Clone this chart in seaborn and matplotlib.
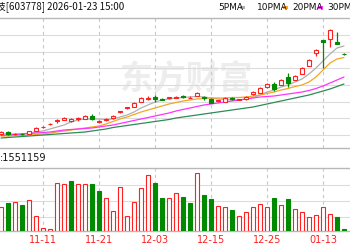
import numpy as np
import pandas as pd
import matplotlib
matplotlib.use("Agg")
import matplotlib.pyplot as plt
import seaborn as sns
from matplotlib.patches import Rectangle

# ---------------- data ----------------
opens  = [6.60, 6.80, 6.55, 6.62, 6.60, 6.90, 7.25, 7.55, 7.90, 8.00,
          7.90, 8.05, 8.10, 8.40, 7.80, 8.00, 8.15, 8.75, 9.15, 9.30,
          9.80, 10.10, 10.25, 10.10, 10.15, 10.20, 10.35, 10.20, 10.40, 10.25,
          10.10, 9.85, 9.80, 10.15, 9.98, 10.05, 10.60, 10.70, 11.25, 11.60,
          11.50, 12.30, 12.00, 12.60, 13.40, 14.65, 15.95, 16.10, 15.75, 14.63]
highs  = [6.90, 6.90, 6.70, 6.70, 6.90, 7.30, 7.35, 7.65, 8.05, 8.30,
          8.20, 8.30, 8.50, 8.55, 8.00, 8.20, 8.50, 8.90, 9.30, 9.80,
          10.30, 10.40, 10.50, 10.20, 10.30, 10.40, 10.50, 10.40, 10.80, 10.40,
          10.15, 10.00, 10.25, 10.30, 10.10, 10.35, 10.90, 11.25, 11.65, 11.80,
          12.05, 12.70, 12.45, 13.25, 14.05, 15.05, 16.00, 17.05, 16.80, 14.70]
lows   = [6.50, 6.50, 6.50, 6.50, 6.55, 6.85, 7.20, 7.50, 7.70, 7.95,
          7.80, 7.90, 8.05, 8.00, 7.70, 7.90, 8.10, 8.70, 9.10, 9.25,
          9.75, 9.95, 9.80, 9.95, 10.05, 10.15, 10.15, 10.15, 10.35, 10.00,
          9.65, 9.80, 9.75, 9.95, 9.95, 10.00, 10.45, 10.65, 11.20, 10.90,
          11.45, 11.30, 11.95, 12.55, 13.35, 14.40, 13.20, 15.30, 15.55, 14.50]
closes = [6.80, 6.60, 6.60, 6.56, 6.85, 7.20, 7.30, 7.60, 8.00, 8.20,
          8.10, 8.15, 8.40, 8.10, 7.90, 8.10, 8.40, 8.85, 9.25, 9.70,
          10.20, 10.20, 10.10, 10.00, 10.25, 10.30, 10.25, 10.24, 10.70, 10.15,
          9.70, 9.95, 10.20, 10.05, 10.06, 10.30, 10.75, 11.20, 11.60, 11.10,
          12.00, 11.70, 12.40, 13.20, 14.00, 15.00, 15.75, 17.00, 15.60, 14.57]

ma5  = [6.6, 6.6, 6.6, 6.6, 6.7, 6.8, 6.9, 7.1, 7.3, 7.5,
        7.8, 8.0, 8.1, 8.1, 8.1, 8.05, 8.1, 8.3, 8.5, 8.8,
        9.2, 9.5, 9.8, 10.0, 10.1, 10.2, 10.25, 10.3, 10.35, 10.3,
        10.2, 10.1, 10.05, 10.0, 10.0, 10.1, 10.25, 10.5, 10.8, 11.0,
        11.3, 11.5, 11.8, 12.1, 12.6, 13.2, 13.9, 14.6, 15.2, 15.4]
ma10 = [6.4, 6.4, 6.45, 6.45, 6.5, 6.55, 6.6, 6.7, 6.8, 6.9,
        7.0, 7.1, 7.2, 7.3, 7.4, 7.6, 7.85, 8.1, 8.3, 8.55,
        8.8, 9.0, 9.2, 9.4, 9.6, 9.75, 9.9, 10.0, 10.1, 10.15,
        10.2, 10.2, 10.2, 10.25, 10.25, 10.3, 10.4, 10.5, 10.65, 10.8,
        11.0, 11.15, 11.35, 11.5, 11.8, 12.3, 13.0, 13.7, 14.1, 14.25]
ma20 = [6.45, 6.5, 6.55, 6.6, 6.65, 6.7, 6.75, 6.8, 6.9, 7.0,
        7.05, 7.1, 7.15, 7.2, 7.3, 7.4, 7.5, 7.65, 7.8, 7.95,
        8.1, 8.25, 8.4, 8.55, 8.7, 8.9, 9.05, 9.2, 9.35, 9.5,
        9.6, 9.7, 9.8, 9.9, 10.0, 10.1, 10.2, 10.3, 10.35, 10.4,
        10.5, 10.6, 10.7, 10.8, 10.95, 11.15, 11.4, 11.7, 12.0, 12.3]
ma30 = [6.2, 6.25, 6.3, 6.35, 6.4, 6.45, 6.5, 6.55, 6.6, 6.65,
        6.7, 6.75, 6.8, 6.9, 7.0, 7.1, 7.25, 7.35, 7.45, 7.55,
        7.65, 7.75, 7.85, 7.95, 8.05, 8.2, 8.3, 8.4, 8.5, 8.6,
        8.7, 8.8, 8.9, 9.0, 9.1, 9.2, 9.3, 9.45, 9.6, 9.75,
        9.9, 10.05, 10.2, 10.35, 10.5, 10.7, 10.9, 11.1, 11.35, 11.6]

# volume (10k lots)
volume = [72, 84, 87, 78, 93, 45, 9, 6, 144, 141,
          150, 141, 141, 141, 120, 99, 60, 132, 45, 87,
          129, 168, 144, 99, 99, 114, 102, 84, 174, 108,
          96, 75, 72, 63, 45, 57, 72, 81, 72, 99,
          78, 96, 66, 57, 42, 48, 72, 51, 42, 6]

tick_labels = ["11-11", "11-21", "12-03", "12-15", "12-25", "01-13"]
tick_index = [6, 14, 22, 30, 38, 46]

title_text = "技[603778] 2026-01-23 15:00"
vol_text = ":1551159"
ma_names = ["5PMA", "10PMA", "20PMA", "30PMA"]
watermark = "东方财富"

# ---------------- style ----------------
sns.set_style("white")
plt.rcParams['font.family'] = ['Noto Sans CJK SC', 'DejaVu Sans']

RED = "#ff2020"
GREEN = "#008a00"
MA_COLORS = ["#b0b0b0", "#f5a623", "#ff33ff", "#2e8b57"]
GRID = "#dcdcdc"
SPINE = "#b8b8b8"

W, H = 350, 250
def fy(y):
    return 1 - y / H

fig = plt.figure(figsize=(3.5, 2.5), dpi=100)
fig.patch.set_facecolor("white")

n = len(closes)
idx = np.arange(n)
xlim = (-1 / 7, 349 / 7)

ax = fig.add_axes([0, fy(148), 1, (148 - 18) / H])
axv = fig.add_axes([0, fy(231), 1, (231 - 168) / H])

# ---------------- price panel ----------------
ax.set_xlim(*xlim)
ax.set_ylim(20 - 148 / 10, 20 - 18 / 10)
ax.set_yticks(np.linspace(6.5, 16.5, 7))
ax.set_xticks([])
ax.set_yticklabels([])
ax.tick_params(length=0)
ax.grid(axis='y', color=GRID, lw=0.8)
for t in tick_index:
    ax.axvline(t, color="#c8c8c8", lw=0.8, ls=(0, (3, 3)), zorder=0.6)
for s in ["left", "right"]:
    ax.spines[s].set_visible(False)
for s in ["top", "bottom"]:
    ax.spines[s].set_color(SPINE)
    ax.spines[s].set_linewidth(1.0)

ax.text(186 / W, fy(80), watermark, transform=fig.transFigure, ha='center', va='center',
        fontsize=24, color="#ededed", fontweight='bold', zorder=0.5)

df_ma = pd.DataFrame({"i": idx, "MA5": ma5, "MA10": ma10, "MA20": ma20, "MA30": ma30})
for col, c in zip(["MA5", "MA10", "MA20", "MA30"], MA_COLORS):
    sns.lineplot(data=df_ma, x="i", y=col, ax=ax, color=c, lw=0.9, zorder=2)
ax.set_xlabel("")
ax.set_ylabel("")

bw = 0.62
for i in range(n):
    o, h, l, c = opens[i], highs[i], lows[i], closes[i]
    up = c >= o
    col = RED if up else GREEN
    lo_b, hi_b = min(o, c), max(o, c)
    ax.vlines(i, l, lo_b, color=col, lw=0.9, zorder=3)
    ax.vlines(i, hi_b, h, color=col, lw=0.9, zorder=3)
    if abs(c - o) < 0.02:
        ax.hlines(o, i - bw / 2, i + bw / 2, color=col, lw=1.0, zorder=3)
    elif up:
        ax.add_patch(Rectangle((i - bw / 2, lo_b), bw, hi_b - lo_b, facecolor="white",
                               edgecolor=col, lw=0.8, zorder=3))
    else:
        ax.add_patch(Rectangle((i - bw / 2, lo_b), bw, hi_b - lo_b, facecolor=col,
                               edgecolor=col, lw=0.8, zorder=3))

# ---------------- volume panel ----------------
axv.set_xlim(*xlim)
axv.set_ylim(0, 189)
axv.set_yticks([43.5, 90, 138])
axv.set_yticklabels([])
axv.grid(axis='y', color=GRID, lw=0.8)
axv.tick_params(length=0)
for t in tick_index:
    axv.axvline(t, color="#c8c8c8", lw=0.8, ls=(0, (3, 3)), zorder=0.6)
for s in ["left", "right"]:
    axv.spines[s].set_visible(False)
for s in ["top", "bottom"]:
    axv.spines[s].set_color(SPINE)
    axv.spines[s].set_linewidth(1.0)

vw = 0.66
for i in range(n):
    prev = closes[i - 1] if i > 0 else opens[i]
    up = closes[i] >= prev
    if up:
        axv.add_patch(Rectangle((i - vw / 2, 0), vw, volume[i], facecolor="white",
                                edgecolor=RED, lw=0.8, zorder=3))
    else:
        axv.add_patch(Rectangle((i - vw / 2, 0), vw, volume[i], facecolor=GREEN,
                                edgecolor=GREEN, lw=0.8, zorder=3))

axv.set_xticks(tick_index)
axv.set_xticklabels(tick_labels, color=RED, fontsize=7, family=['DejaVu Sans'])
axv.tick_params(axis='x', pad=3)

# ---------------- header / texts ----------------
fig.text(-4 / W, fy(7), title_text, ha='left', va='center', fontsize=7, color="#111111")
fig.text(0, fy(158), vol_text, ha='left', va='center', fontsize=7, color="#111111",
         family=['DejaVu Sans'])

leg_x = [218, 257, 292, 327]
for name, c, x0 in zip(ma_names, MA_COLORS, leg_x):
    fig.text(x0 / W, fy(7), name, ha='left', va='center', fontsize=6.5, color="#111111",
             family=['DejaVu Sans'])
    w_px = {4: 20, 5: 24}[len(name)]
    fig.add_artist(Rectangle(((x0 + w_px + 2) / W, fy(8.5)), 5 / W, 2.5 / H,
                             transform=fig.transFigure, facecolor=c, edgecolor='none'))

fig.savefig("out.png", dpi=100)
